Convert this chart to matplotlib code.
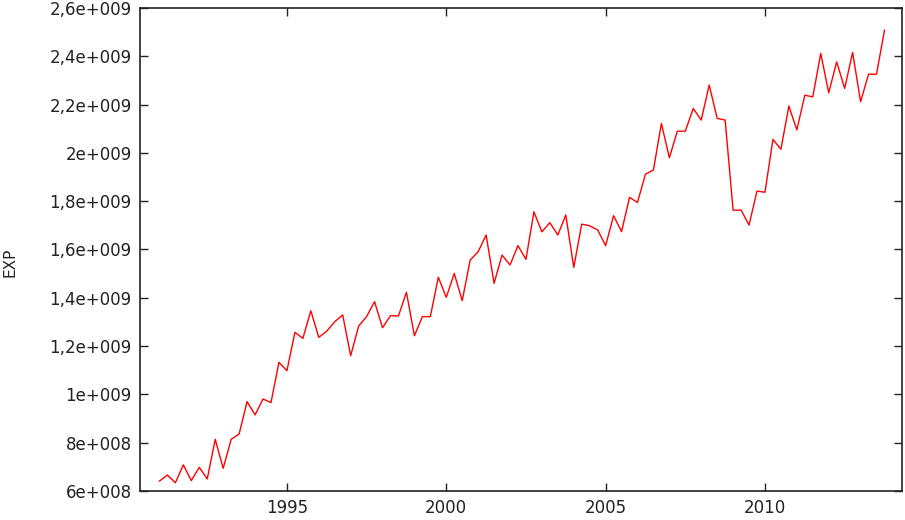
import matplotlib
matplotlib.use("Agg")
import matplotlib.pyplot as plt
import numpy as np

# Quarterly series, 1991Q1 .. 2013Q4
START_YEAR = 1991
EXP = [
    6.41e8, 6.66e8, 6.34e8, 7.08e8, 6.43e8, 6.98e8, 6.50e8, 8.14e8,
    6.94e8, 8.14e8, 8.36e8, 9.70e8, 9.15e8, 9.81e8, 9.66e8, 1.133e9,
    1.098e9, 1.257e9, 1.232e9, 1.346e9, 1.236e9, 1.262e9, 1.301e9, 1.329e9,
    1.160e9, 1.283e9, 1.322e9, 1.384e9, 1.276e9, 1.326e9, 1.325e9, 1.423e9,
    1.243e9, 1.322e9, 1.322e9, 1.485e9, 1.402e9, 1.501e9, 1.388e9, 1.556e9,
    1.591e9, 1.660e9, 1.460e9, 1.577e9, 1.536e9, 1.616e9, 1.559e9, 1.756e9,
    1.673e9, 1.711e9, 1.660e9, 1.743e9, 1.526e9, 1.705e9, 1.698e9, 1.681e9,
    1.616e9, 1.740e9, 1.674e9, 1.816e9, 1.795e9, 1.912e9, 1.929e9, 2.122e9,
    1.980e9, 2.090e9, 2.090e9, 2.184e9, 2.136e9, 2.281e9, 2.143e9, 2.136e9,
    1.763e9, 1.763e9, 1.701e9, 1.842e9, 1.837e9, 2.056e9, 2.015e9, 2.194e9,
    2.095e9, 2.239e9, 2.232e9, 2.412e9, 2.249e9, 2.377e9, 2.267e9, 2.416e9,
    2.212e9, 2.326e9, 2.326e9, 2.508e9,
]

YTICKS = [6e8, 8e8, 1e9, 1.2e9, 1.4e9, 1.6e9, 1.8e9, 2e9, 2.2e9, 2.4e9, 2.6e9]
YTICK_LABELS = ["6e+008", "8e+008", "1e+009", "1,2e+009", "1,4e+009", "1,6e+009",
                "1,8e+009", "2e+009", "2,2e+009", "2,4e+009", "2,6e+009"]
XTICKS = [1995, 2000, 2005, 2010]

years = START_YEAR + np.arange(len(EXP)) / 4.0

fig = plt.figure(figsize=(9.05, 5.2), dpi=100)
ax = fig.add_axes([0.1547, 0.0558, 0.842, 0.9288])

ax.plot(years, EXP, color="#ff0000", linewidth=1.0)

ax.set_xlim(1990.39, 2014.3)
ax.set_ylim(6e8, 2.6e9)
ax.set_xticks(XTICKS)
ax.set_xticklabels([str(x) for x in XTICKS])
ax.set_yticks(YTICKS)
ax.set_yticklabels(YTICK_LABELS)

ax.tick_params(direction="in", top=True, right=True, length=6, width=1,
               labelsize=12, colors="#222222", pad=6)
for s in ax.spines.values():
    s.set_linewidth(1.2)
    s.set_color("#222222")

ax.set_ylabel("EXP", fontsize=11, color="#222222")
ax.yaxis.set_label_coords(-0.1614, 0.474)

fig.savefig("out.png", dpi=100)
